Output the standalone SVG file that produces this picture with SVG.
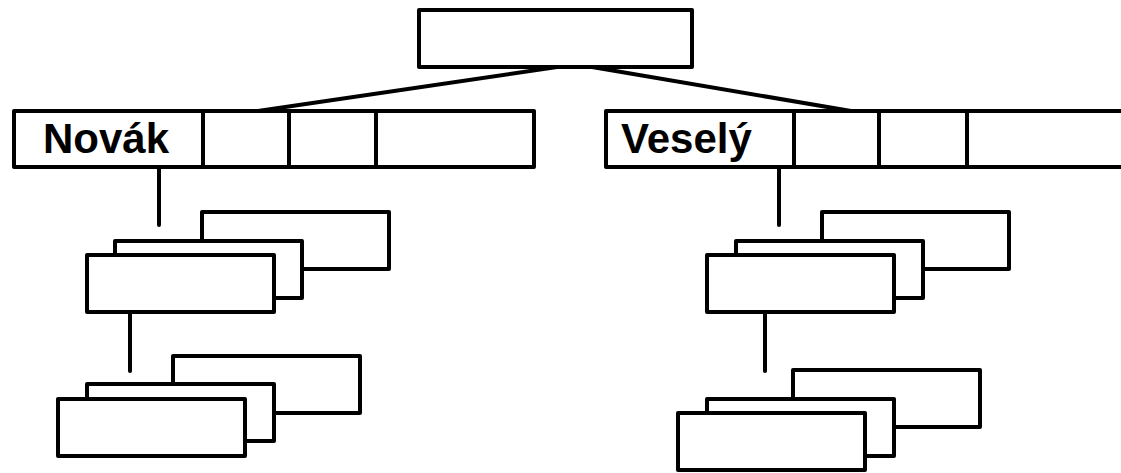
<svg xmlns="http://www.w3.org/2000/svg" width="1121" height="473" viewBox="0 0 1121 473">
<style>
.b{fill:#fff;stroke:#000;stroke-width:4;stroke-linejoin:round}
.l{fill:none;stroke:#000;stroke-width:4;stroke-linecap:round}
.t{font-family:"Liberation Sans",Arial,sans-serif;font-weight:bold;font-size:42px;fill:#000}
</style>
<rect width="1121" height="473" fill="#fff"/>
<g id="connectors">
<line class="l" x1="258" y1="111" x2="557" y2="67"/>
<line class="l" x1="592" y1="67" x2="851" y2="111"/>
<line class="l" x1="159" y1="167" x2="159" y2="225"/>
<line class="l" x1="779" y1="167" x2="779" y2="225"/>
<line class="l" x1="130" y1="312" x2="130" y2="371"/>
<line class="l" x1="765" y1="312" x2="765" y2="371"/>
</g>
<g id="root"><rect class="b" x="419" y="10" width="273" height="57"/></g>
<g id="novak">
<rect class="b" x="14" y="111" width="520" height="56"/>
<line class="l" x1="203" y1="111" x2="203" y2="167"/>
<line class="l" x1="289" y1="111" x2="289" y2="167"/>
<line class="l" x1="376" y1="111" x2="376" y2="167"/>
<text class="t" x="43" y="153">Novák</text>
</g>
<g id="vesely">
<rect class="b" x="606" y="111" width="530" height="56"/>
<line class="l" x1="794" y1="111" x2="794" y2="167"/>
<line class="l" x1="879" y1="111" x2="879" y2="167"/>
<line class="l" x1="967" y1="111" x2="967" y2="167"/>
<text class="t" x="621" y="153">Veselý</text>
</g>
<g id="novak-stack1">
<rect class="b" x="202" y="212" width="187" height="57"/>
<rect class="b" x="115" y="241" width="187" height="57"/>
<rect class="b" x="87" y="255" width="187" height="57"/>
</g>
<g id="novak-stack2">
<rect class="b" x="173" y="356" width="187" height="57"/>
<rect class="b" x="87" y="384" width="187" height="57"/>
<rect class="b" x="58" y="399" width="187" height="57"/>
</g>
<g id="vesely-stack1">
<rect class="b" x="822" y="212" width="187" height="57"/>
<rect class="b" x="736" y="241" width="187" height="57"/>
<rect class="b" x="707" y="255" width="187" height="57"/>
</g>
<g id="vesely-stack2">
<rect class="b" x="793" y="370" width="187" height="57"/>
<rect class="b" x="707" y="399" width="187" height="57"/>
<rect class="b" x="678" y="413" width="187" height="57"/>
</g>
</svg>
